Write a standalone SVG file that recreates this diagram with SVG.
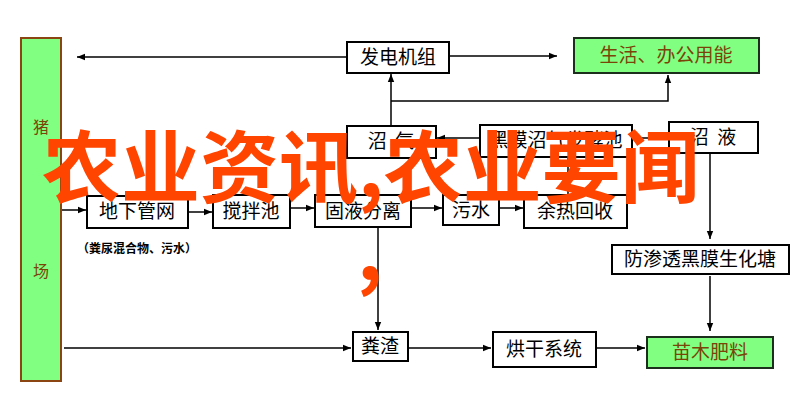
<svg xmlns="http://www.w3.org/2000/svg" width="797" height="405" viewBox="0 0 797 405">
<defs>
<marker id="ah" viewBox="0 0 10 10" refX="10" refY="5" markerWidth="8" markerHeight="8" markerUnits="userSpaceOnUse" orient="auto">
<path d="M0,1 L10,5 L0,9 Z" fill="#000"/>
</marker>
<style>
.box{fill:#fff;stroke:#000;stroke-width:2}
.gbox{fill:#80FF80;stroke:#1c2e1c;stroke-width:2}
.t{font-family:"Noto Sans CJK SC","Liberation Sans",sans-serif;font-size:19px;fill:#000;text-anchor:middle}
.gt{font-family:"Noto Sans CJK SC","Liberation Sans",sans-serif;font-size:19px;fill:#7a4408;text-anchor:middle}
.c{fill:none;stroke:#000;stroke-width:1.5}
.a{marker-end:url(#ah)}
.big{font-family:"Noto Sans CJK SC","Liberation Sans",sans-serif;font-size:79px;font-weight:bold;fill:#FF4500}
</style>
</defs>
<rect width="797" height="405" fill="#fff"/>

<g id="connectors">
<line class="c a" x1="347" y1="57" x2="77" y2="57"/>
<line class="c a" x1="449" y1="56" x2="557" y2="56"/>
<line class="c a" x1="391" y1="126" x2="391" y2="74"/>
<polyline class="c a" points="391,101 668,101 668,75"/>
<line class="c a" x1="480" y1="138" x2="437" y2="138"/>
<line class="c" x1="632" y1="138" x2="669" y2="138"/>
<line class="c" x1="568" y1="158" x2="568" y2="195"/>
<line class="c a" x1="710" y1="153" x2="710" y2="239"/>
<line class="c a" x1="710" y1="276" x2="710" y2="331"/>
<line class="c a" x1="62" y1="210" x2="86" y2="210"/>
<line class="c a" x1="188" y1="212" x2="212" y2="212"/>
<line class="c a" x1="290" y1="208" x2="314" y2="208"/>
<line class="c a" x1="411" y1="208" x2="442" y2="208"/>
<line class="c a" x1="499" y1="208" x2="523" y2="208"/>
<line class="c a" x1="378" y1="228" x2="378" y2="330"/>
<line class="c a" x1="64" y1="348" x2="351" y2="348"/>
<line class="c a" x1="408" y1="348" x2="491" y2="348"/>
<line class="c a" x1="596" y1="348" x2="645" y2="348"/>
</g>

<g id="pig-farm">
<rect x="21" y="38" width="40" height="343" fill="#80FF80" stroke="#8B4513" stroke-width="2"/>
<text x="41" y="133" class="gt" style="font-size:16px">猪</text>
<text x="41" y="277" class="gt" style="font-size:16px">场</text>
</g>
<g id="generator"><rect class="box" x="347" y="42" width="102" height="31"/><text class="t" x="398" y="64">发电机组</text></g>
<g id="living-energy"><rect class="gbox" x="574" y="38" width="185" height="35"/><text class="gt" x="666" y="62">生活、办公用能</text></g>
<g id="biogas"><rect class="box" x="347" y="126" width="89" height="32"/><text class="t" x="391" y="148" xml:space="preserve">沼  气</text></g>
<g id="digester"><rect class="box" x="480" y="125" width="152" height="32"/><text class="t" x="556" y="147">黑膜沼气发酵池</text></g>
<g id="slurry"><rect class="box" x="669" y="122" width="89" height="31"/><text class="t" x="713" y="144" xml:space="preserve">沼  液</text></g>
<g id="pipe-network"><rect class="box" x="87" y="196" width="101" height="32"/><text class="t" x="137" y="218">地下管网</text></g>
<g id="mixing-tank"><rect class="box" x="213" y="195" width="77" height="33"/><text class="t" x="251" y="218">搅拌池</text></g>
<g id="separation"><rect class="box" x="315" y="195" width="96" height="32"/><text class="t" x="363" y="218">固液分离</text></g>
<g id="wastewater"><rect class="box" x="443" y="195" width="56" height="30"/><text class="t" x="471" y="217">污水</text></g>
<g id="heat-recovery"><rect class="box" x="524" y="195" width="103" height="33"/><text class="t" x="575" y="218">余热回收</text></g>
<g id="pond"><rect class="box" x="612" y="245" width="177" height="29"/><text class="t" x="700" y="266">防渗透黑膜生化塘</text></g>
<g id="manure"><rect class="box" x="353" y="332" width="55" height="29"/><text class="t" x="380" y="353">粪渣</text></g>
<g id="dryer"><rect class="box" x="493" y="332" width="103" height="35"/><text class="t" x="544" y="356">烘干系统</text></g>
<g id="fertilizer"><rect class="gbox" x="647" y="337" width="126" height="31"/><text class="gt" x="710" y="359">苗木肥料</text></g>

<text x="77" y="253" font-family="Noto Sans CJK SC, sans-serif" font-size="12" font-weight="bold" fill="#000">（粪尿混合物、污水）</text>

<text class="big" x="42" y="197">农业资讯,农业要闻</text>
<text class="big" x="357" y="280">,</text>
</svg>
